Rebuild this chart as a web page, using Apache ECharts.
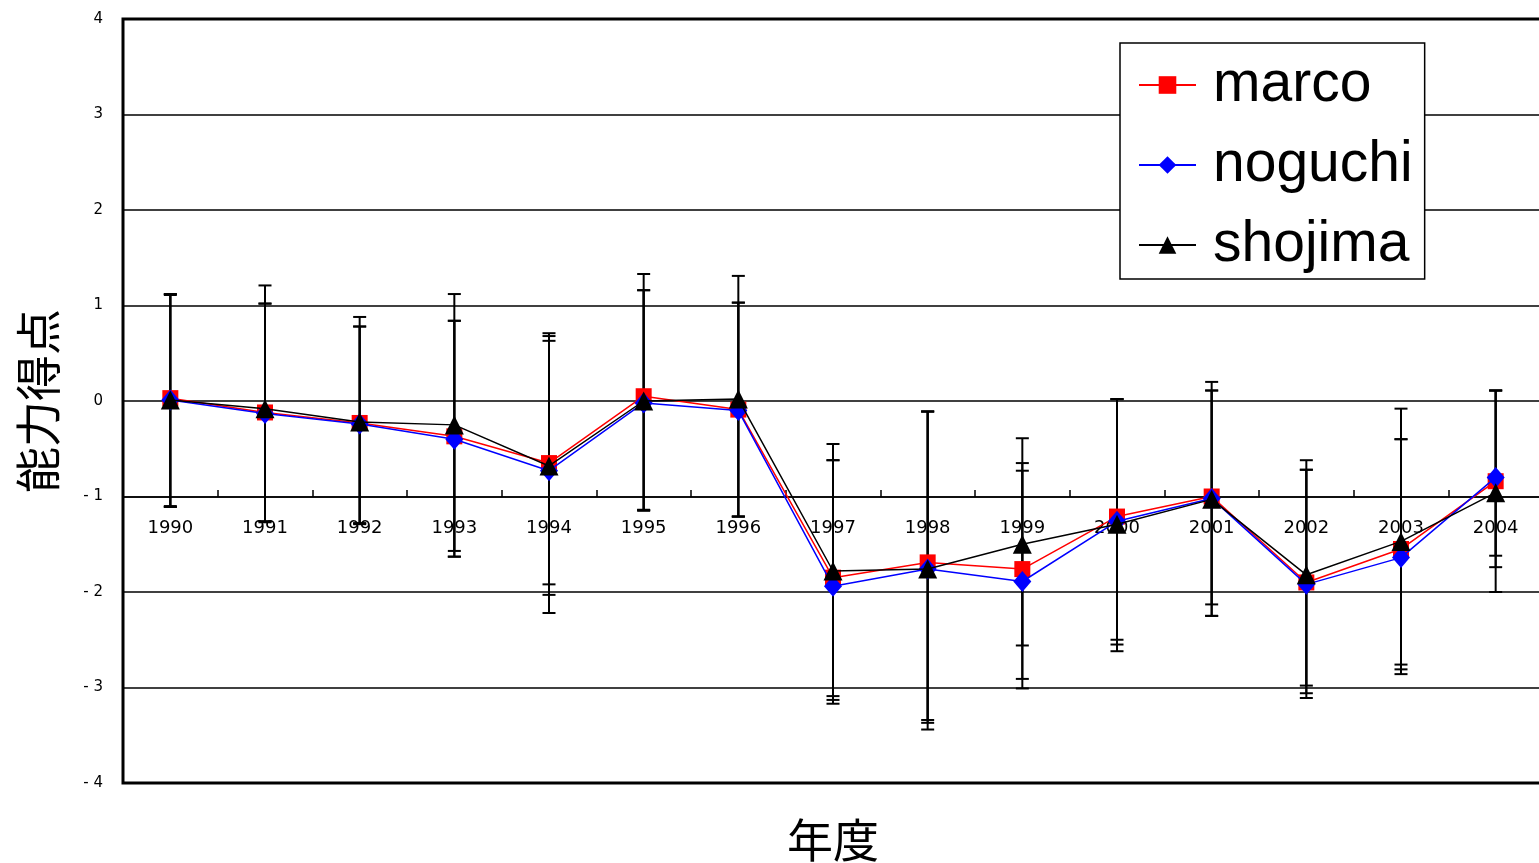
<!DOCTYPE html>
<html><head><meta charset="utf-8">
<script src="https://cdn.jsdelivr.net/npm/echarts@6/dist/echarts.min.js"></script>
<style>html,body{margin:0;padding:0;background:#fff}#c{width:1539px;height:863px}</style>
</head><body><div id="c"></div>
<script>
const years = ['1990','1991','1992','1993','1994','1995','1996','1997','1998','1999','2000','2001','2002','2003','2004'];
const yTicks = [-4,-3,-2,-1,0,1,2,3,4];
const marco   = [0.03,-0.12,-0.23,-0.37,-0.65,0.05,-0.09,-1.85,-1.69,-1.76,-1.21,-1.00,-1.90,-1.55,-0.84];
const noguchi = [0.01,-0.13,-0.24,-0.40,-0.73,-0.02,-0.10,-1.94,-1.76,-1.89,-1.26,-1.02,-1.92,-1.64,-0.80];
const shojima = [0.01,-0.08,-0.22,-0.25,-0.68,0.00,0.02,-1.78,-1.76,-1.50,-1.29,-1.03,-1.82,-1.47,-0.96];
const marcoHi   = [1.12,1.21,0.88,1.12,0.71,1.33,1.31,-0.45,-0.11,-0.39,0.02,0.20,-0.62,-0.08,0.11];
const noguchiHi = [1.12,1.02,0.78,0.84,0.68,1.16,1.03,-0.62,-0.11,-0.65,0.02,0.11,-0.72,-0.40,0.11];
const shojimaHi = [1.11,1.02,0.78,0.84,0.63,1.16,1.03,-0.62,-0.11,-0.73,0.02,0.11,-0.72,-0.40,0.11];
const marcoLo   = [-1.11,-1.26,-1.28,-1.57,-1.92,-1.14,-1.21,-3.09,-3.34,-2.56,-2.50,-2.13,-2.98,-2.76,-1.62];
const noguchiLo = [-1.11,-1.27,-1.29,-1.63,-2.03,-1.14,-1.21,-3.13,-3.37,-2.91,-2.55,-2.25,-3.06,-2.81,-1.74];
const shojimaLo = [-1.10,-1.26,-1.28,-1.63,-2.22,-1.15,-1.21,-3.17,-3.44,-3.01,-2.62,-2.25,-3.11,-2.86,-2.00];

function errSeries(hi, lo){
  return {
    type:'custom', xAxisIndex:0, yAxisIndex:0, z:1, silent:true,
    data: years.map((y,i)=>[i, hi[i], lo[i]]),
    encode:{x:0, y:[1,2]},
    renderItem:function(params, api){
      const a = api.coord([api.value(0), api.value(1)]);
      const b = api.coord([api.value(0), api.value(2)]);
      const hw = 6.5, st = {stroke:'#000', lineWidth:2};
      return {type:'group', children:[
        {type:'line', shape:{x1:a[0],y1:a[1],x2:b[0],y2:b[1]}, style:st},
        {type:'line', shape:{x1:a[0]-hw,y1:a[1],x2:a[0]+hw,y2:a[1]}, style:st},
        {type:'line', shape:{x1:b[0]-hw,y1:b[1],x2:b[0]+hw,y2:b[1]}, style:st}
      ]};
    }
  };
}
function lineSeries(name, data, color, symbol, size, z){
  return {name, type:'line', data, xAxisIndex:0, yAxisIndex:0, z,
    symbol, symbolSize:size, showSymbol:true,
    lineStyle:{color, width:1.5}, itemStyle:{color, borderWidth:0}};
}
const chart = echarts.init(document.getElementById('c'), null, {renderer:'canvas'});
chart.setOption({
  animation:false,
  backgroundColor:'#fff',
  grid:[
    {left:123, top:19, width:1420, height:764, show:true, borderColor:'#000', borderWidth:3, backgroundColor:'transparent', containLabel:false, outerBoundsMode:'none'},
    {left:123, top:19, width:1420, height:478, show:false, containLabel:false, outerBoundsMode:'none'}
  ],
  xAxis:[
    {type:'category', gridIndex:0, data:years, boundaryGap:true,
     axisLine:{show:false}, axisTick:{show:false}, axisLabel:{show:false},
     name:'年度', nameLocation:'middle', nameGap:34,
     nameTextStyle:{fontSize:46, fontFamily:'Noto Sans CJK JP', color:'#000'}},
    {type:'category', gridIndex:1, data:years, boundaryGap:true, position:'bottom',
     axisLine:{show:true, lineStyle:{color:'#000', width:1.5}},
     axisTick:{show:true, inside:true, length:7, lineStyle:{color:'#000', width:1.5}},
     axisLabel:{show:true, margin:22, fontSize:18, fontFamily:'DejaVu Sans', color:'#000'}}
  ],
  yAxis:[
    {type:'value', gridIndex:0, min:yTicks[0], max:yTicks[yTicks.length-1], interval:1,
     axisLine:{show:false}, axisTick:{show:false},
     axisLabel:{margin:20, fontSize:15, fontFamily:'DejaVu Sans', color:'#000',
       formatter:v=> v<0 ? '- '+(-v) : String(v)},
     splitLine:{show:true, lineStyle:{color:'#000', width:1.5}},
     name:'能力得点', nameLocation:'middle', nameGap:62, nameRotate:90,
     nameTextStyle:{fontSize:46, fontFamily:'Noto Sans CJK JP', color:'#000'}},
    {type:'value', gridIndex:1, min:0, max:1, show:false}
  ],
  legend:{
    show:true, orient:'vertical', left:1120, top:43,
    data:['marco','noguchi','shojima'],
    backgroundColor:'#fff', borderColor:'#000', borderWidth:1.5,
    padding:[12, 12, 4, 18], itemGap:20, itemWidth:57, itemHeight:22,
    textStyle:{fontSize:57, fontFamily:'Liberation Sans', color:'#000', lineHeight:60, padding:[0,0,0,12]}
  },
  series:[
    errSeries(marcoHi, marcoLo),
    errSeries(noguchiHi, noguchiLo),
    errSeries(shojimaHi, shojimaLo),
    lineSeries('marco', marco, '#ff0000', 'rect', 16, 3),
    lineSeries('noguchi', noguchi, '#0000ff', 'diamond', [18,21], 4),
    lineSeries('shojima', shojima, '#000000', 'triangle', 19, 5)
  ]
});
</script></body></html>
